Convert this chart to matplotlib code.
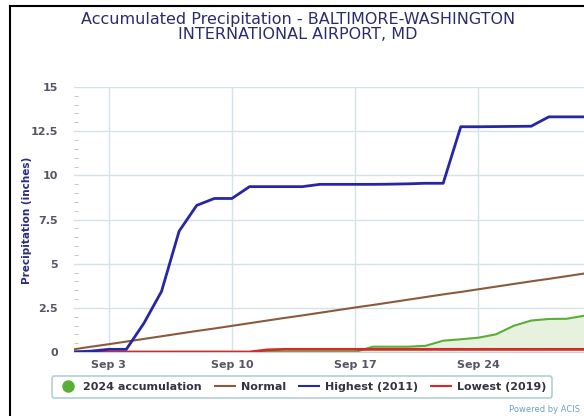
import matplotlib
matplotlib.use("Agg")
import matplotlib.pyplot as plt
from matplotlib.lines import Line2D
from matplotlib.ticker import MultipleLocator
import datetime as dt

days = list(range(1, 31))
highest_2011 = [0.0, 0.05, 0.15, 0.15, 1.63, 3.43, 6.84, 8.3, 8.69, 8.69,
                9.36, 9.36, 9.36, 9.36, 9.49, 9.49, 9.49, 9.49, 9.50, 9.52,
                9.55, 9.55, 12.75, 12.75, 12.76, 12.77, 12.78, 13.31, 13.31, 13.31]
normal = [0.15, 0.30, 0.44, 0.59, 0.74, 0.89, 1.04, 1.19, 1.33, 1.48,
          1.63, 1.78, 1.93, 2.07, 2.22, 2.37, 2.52, 2.66, 2.81, 2.96,
          3.11, 3.26, 3.40, 3.55, 3.70, 3.85, 4.00, 4.14, 4.29, 4.44]
lowest_2019 = [0.0, 0.0, 0.0, 0.0, 0.0, 0.0, 0.0, 0.0, 0.0, 0.0,
               0.0, 0.12, 0.15, 0.15, 0.15, 0.15, 0.15, 0.15, 0.15, 0.15,
               0.15, 0.15, 0.15, 0.15, 0.15, 0.15, 0.15, 0.15, 0.15, 0.15]
acc_2024 = [0.0, 0.0, 0.0, 0.0, 0.0, 0.0, 0.0, 0.0, 0.0, 0.0,
            0.0, 0.0, 0.0, 0.0, 0.0, 0.0, 0.0, 0.3, 0.3, 0.3,
            0.35, 0.64, 0.72, 0.81, 1.0, 1.48, 1.78, 1.87, 1.88, 2.05]
xtick_days = [3, 10, 17, 24]
xtick_labels = ["Sep 3", "Sep 10", "Sep 17", "Sep 24"]
ytick_vals = [0, 2.5, 5, 7.5, 10, 12.5, 15]
ytick_labels = ["0", "2.5", "5", "7.5", "10", "12.5", "15"]

dates = [dt.date(2024, 9, d) for d in days]

W, H = 584, 416
fig = plt.figure(figsize=(W / 100, H / 100), dpi=100)
fig.patch.set_facecolor("white")

# black frame lines (left and top)
fig.add_artist(Line2D([10 / W, 10 / W], [0, 1 - 6 / H], transform=fig.transFigure,
                      color="black", lw=1.5))
fig.add_artist(Line2D([10 / W, 1], [1 - 6 / H, 1 - 6 / H], transform=fig.transFigure,
                      color="black", lw=1.5))

left, right = 73.5 / W, 584 / W
top, bottom = 1 - 87 / H, 1 - 352 / H
ax = fig.add_axes([left, bottom, right - left, top - bottom])

blue = "#2626a6"
brown = "#8b5a3c"
red = "#d12b2b"
green = "#5aae37"

ax.fill_between(dates, acc_2024, 0, color="#e6f2dd", zorder=1)
ax.plot(dates, acc_2024, color=green, lw=1.5, zorder=2)
ax.plot(dates, lowest_2019, color=red, lw=2, zorder=3)
ax.plot(dates, normal, color=brown, lw=1.5, zorder=3)
ax.plot(dates, highest_2011, color=blue, lw=2, zorder=4)

ax.set_xlim(dates[0], dates[-1])
ax.set_ylim(0, 15)
ax.set_xticks([dt.date(2024, 9, d) for d in xtick_days])
ax.set_xticklabels(xtick_labels)
ax.set_yticks(ytick_vals)
ax.set_yticklabels(ytick_labels)
ax.yaxis.set_minor_locator(MultipleLocator(0.5))

ax.grid(True, which="major", color="#d6e2e8", lw=1.0)
ax.set_axisbelow(True)
for s in ["top", "right", "left"]:
    ax.spines[s].set_visible(False)
ax.spines["bottom"].set_color("#c0d4e0")
ax.tick_params(axis="y", which="major", length=0, labelsize=8,
               labelcolor="#555566", pad=11)
ax.tick_params(axis="x", which="major", length=0, labelsize=8,
               labelcolor="#555566", pad=6)
ax.tick_params(axis="y", which="minor", length=3, color="#bbbbbb", direction="in")
for lab in ax.get_xticklabels() + ax.get_yticklabels():
    lab.set_fontweight("bold")

fig.text(298 / W, 1 - 27 / H,
         "Accumulated Precipitation - BALTIMORE-WASHINGTON\nINTERNATIONAL AIRPORT, MD",
         ha="center", va="center", fontsize=11.5, color="#2b2b6e",
         linespacing=1.0, multialignment="center")

fig.text(27 / W, 1 - 220 / H, "Precipitation (inches)", rotation=90,
         ha="center", va="center", fontsize=7.5, fontweight="bold", color="#2b2b80",
         family=["Liberation Sans Narrow", "DejaVu Sans"])

handles = [
    Line2D([], [], color=green, marker="o", linestyle="none", markersize=8),
    Line2D([], [], color=brown, lw=1.5),
    Line2D([], [], color=blue, lw=1.5),
    Line2D([], [], color=red, lw=1.5),
]
labels = ["2024 accumulation", "Normal", "Highest (2011)", "Lowest (2019)"]
leg = fig.legend(handles, labels, loc="center", bbox_to_anchor=(302 / W, 1 - 387 / H),
                 ncol=4, frameon=True, fancybox=True, fontsize=8,
                 handlelength=1.8, columnspacing=1.2, handletextpad=0.5,
                 borderpad=0.5, edgecolor="#9cc4c8")
leg.get_frame().set_linewidth(1.2)
for t in leg.get_texts():
    t.set_color("#333344")
    t.set_fontweight("bold")

fig.text(580 / W, 1 - 409 / H, "Powered by ACIS", ha="right", va="center",
         fontsize=6, color="#6a9fd0")

fig.savefig("out.png", dpi=100, facecolor="white")
